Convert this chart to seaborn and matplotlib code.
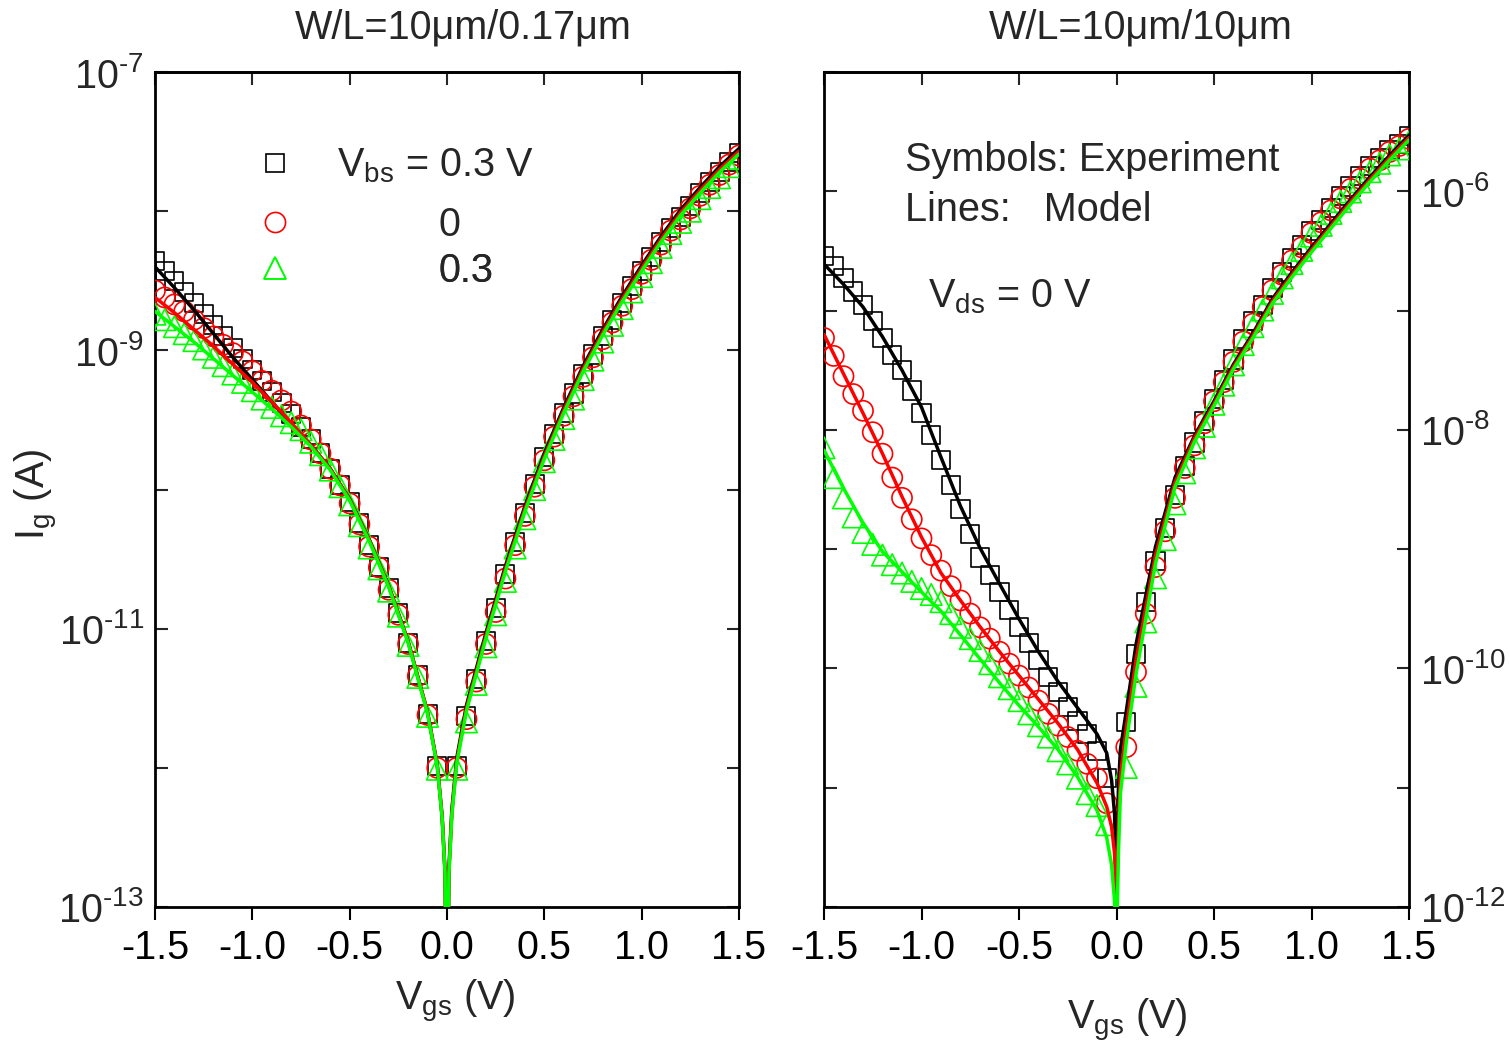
import numpy as np
import matplotlib
matplotlib.use("Agg")
import matplotlib.pyplot as plt
import seaborn as sns
from matplotlib.lines import Line2D
from matplotlib.ticker import FixedLocator, FixedFormatter, NullLocator

# ---------------------------------------------------------------------------
# Gate-voltage sweep of the measured points (V)
VGS_NEG = np.round(np.linspace(-1.5, -0.05, 30), 3)
VGS_POS = np.round(np.linspace(0.05, 1.5, 30), 3)
VGS_MEAS = np.concatenate([VGS_NEG, VGS_POS])

SERIES = ["Vbs = 0.3 V", "0", "0.3"]

# ---- W/L = 10um/0.17um : measured log10(Ig / A) ---------------------------
SHORT_NEG = {
    "Vbs = 0.3 V": [-8.36, -8.43, -8.50, -8.58, -8.66, -8.74, -8.82, -8.90, -8.98, -9.06,
                    -9.14, -9.22, -9.30, -9.38, -9.46, -9.55, -9.64, -9.74, -9.85, -9.97,
                    -10.09, -10.24, -10.40, -10.555, -10.71, -10.89, -11.10, -11.33, -11.61, -11.99],
    "0": [-8.57, -8.62, -8.67, -8.72, -8.78, -8.84, -8.90, -8.96, -9.02, -9.08,
          -9.15, -9.22, -9.29, -9.36, -9.44, -9.54, -9.64, -9.74, -9.85, -9.97,
          -10.10, -10.25, -10.41, -10.56, -10.72, -10.90, -11.11, -11.34, -11.62, -12.00],
    "0.3": [-8.74, -8.78, -8.83, -8.88, -8.93, -8.99, -9.05, -9.11, -9.17, -9.23,
            -9.29, -9.35, -9.41, -9.47, -9.52, -9.57, -9.66, -9.75, -9.86, -9.98,
            -10.11, -10.26, -10.42, -10.57, -10.73, -10.91, -11.12, -11.35, -11.63, -12.01],
}
SHORT_POS = {
    "Vbs = 0.3 V": [-11.99, -11.63, -11.36, -11.09, -10.85, -10.61, -10.375, -10.17, -9.96, -9.765,
                    -9.60, -9.45, -9.31, -9.17, -9.03, -8.90, -8.78, -8.66, -8.54, -8.43,
                    -8.33, -8.22, -8.12, -8.04, -7.96, -7.87, -7.79, -7.72, -7.645, -7.58],
    "0": [-12.00, -11.65, -11.38, -11.11, -10.88, -10.64, -10.40, -10.19, -9.98, -9.79,
          -9.62, -9.47, -9.33, -9.19, -9.05, -8.92, -8.80, -8.68, -8.56, -8.45,
          -8.35, -8.24, -8.14, -8.06, -7.98, -7.89, -7.81, -7.74, -7.665, -7.60],
    "0.3": [-12.01, -11.67, -11.40, -11.13, -10.90, -10.66, -10.42, -10.21, -10.00, -9.80,
            -9.64, -9.49, -9.35, -9.21, -9.07, -8.94, -8.82, -8.70, -8.58, -8.47,
            -8.37, -8.26, -8.16, -8.08, -8.00, -7.91, -7.83, -7.76, -7.68, -7.62],
}

# ---- W/L = 10um/0.17um : model log10(Ig / A) -------------------------------
SHORT_MODEL_VGS = [-1.5, -1.4, -1.3, -1.2, -1.1, -1.0, -0.9, -0.8, -0.7, -0.6, -0.5, -0.4,
                   -0.3, -0.2, -0.1, -0.05, -0.025, -0.01, 0.0, 0.01, 0.025, 0.05, 0.1,
                   0.2, 0.3, 0.4, 0.5, 0.6, 0.7, 0.8, 0.9, 1.0, 1.1, 1.2, 1.3, 1.4, 1.5]
SHORT_MODEL = {
    "Vbs = 0.3 V": [-8.40, -8.55, -8.71, -8.88, -9.05, -9.21, -9.37, -9.53, -9.68, -9.85,
                    -10.07, -10.36, -10.69, -11.09, -11.60, -11.98, -12.35, -12.75, -14.0,
                    -12.72, -12.30, -11.93, -11.55, -11.03, -10.55, -10.12, -9.74, -9.41,
                    -9.11, -8.85, -8.61, -8.39, -8.18, -7.99, -7.83, -7.68, -7.55],
    "0": [-8.62, -8.73, -8.85, -8.97, -9.10, -9.23, -9.37, -9.52, -9.68, -9.85,
          -10.07, -10.36, -10.69, -11.09, -11.60, -11.98, -12.35, -12.75, -14.0,
          -12.74, -12.32, -11.95, -11.57, -11.05, -10.57, -10.14, -9.76, -9.43,
          -9.13, -8.87, -8.63, -8.41, -8.20, -8.01, -7.85, -7.70, -7.57],
    "0.3": [-8.72, -8.83, -8.94, -9.06, -9.18, -9.30, -9.42, -9.55, -9.69, -9.86,
            -10.08, -10.37, -10.70, -11.10, -11.61, -11.99, -12.36, -12.76, -14.0,
            -12.76, -12.34, -11.97, -11.59, -11.07, -10.59, -10.16, -9.78, -9.45,
            -9.15, -8.89, -8.65, -8.43, -8.22, -8.03, -7.87, -7.72, -7.59],
}

# ---- W/L = 10um/10um : measured log10(Ig / A) ------------------------------
LONG_NEG = {
    "Vbs = 0.3 V": [-6.54, -6.63, -6.73, -6.84, -6.95, -7.09, -7.23, -7.37, -7.50, -7.67,
                    -7.86, -8.04, -8.25, -8.46, -8.66, -8.87, -9.07, -9.22, -9.36, -9.51,
                    -9.655, -9.79, -9.93, -10.07, -10.20, -10.32, -10.44, -10.55, -10.69, -10.92],
    "0": [-7.23, -7.38, -7.55, -7.70, -7.84, -8.02, -8.20, -8.40, -8.57, -8.75,
          -8.91, -9.05, -9.18, -9.31, -9.43, -9.54, -9.655, -9.75, -9.86, -9.96,
          -10.06, -10.16, -10.27, -10.38, -10.48, -10.575, -10.69, -10.80, -10.92, -11.13],
    "0.3": [-8.15, -8.40, -8.57, -8.73, -8.86, -8.96, -9.05, -9.13, -9.20, -9.27,
            -9.33, -9.38, -9.44, -9.54, -9.655, -9.75, -9.85, -9.96, -10.07, -10.17,
            -10.27, -10.38, -10.48, -10.575, -10.69, -10.80, -10.92, -11.05, -11.15, -11.31],
}
LONG_POS = {
    "Vbs = 0.3 V": [-10.45, -9.88, -9.445, -9.10, -8.82, -8.55, -8.30, -8.106, -7.925, -7.74,
                    -7.58, -7.41, -7.24, -7.09, -6.95, -6.81, -6.68, -6.56, -6.45, -6.33,
                    -6.24, -6.14, -6.04, -5.96, -5.875, -5.79, -5.72, -5.65, -5.60, -5.54],
    "0": [-10.66, -10.03, -9.54, -9.15, -8.85, -8.57, -8.32, -8.13, -7.945, -7.76,
          -7.60, -7.43, -7.26, -7.11, -6.97, -6.83, -6.70, -6.58, -6.47, -6.35,
          -6.26, -6.16, -6.06, -5.98, -5.895, -5.81, -5.74, -5.67, -5.62, -5.56],
    "0.3": [-10.83, -10.15, -9.61, -9.24, -8.92, -8.62, -8.36, -8.15, -7.97, -7.785,
            -7.625, -7.455, -7.285, -7.135, -6.995, -6.855, -6.725, -6.605, -6.495, -6.375,
            -6.285, -6.185, -6.085, -6.005, -5.92, -5.835, -5.765, -5.695, -5.645, -5.585],
}

# ---- W/L = 10um/10um : model log10(Ig / A) ---------------------------------
LONG_MODEL_VGS = [-1.5, -1.4, -1.3, -1.2, -1.1, -1.0, -0.9, -0.8, -0.7, -0.6, -0.5, -0.4,
                  -0.3, -0.2, -0.1, -0.05, -0.025, -0.01, -0.003, 0.0, 0.003, 0.01, 0.02,
                  0.05, 0.1, 0.2, 0.3, 0.4, 0.5, 0.6, 0.7, 0.8, 0.9, 1.0, 1.1, 1.2, 1.3,
                  1.4, 1.5]
LONG_MODEL = {
    "Vbs = 0.3 V": [-6.61, -6.78, -6.97, -7.22, -7.50, -7.81, -8.23, -8.64, -8.99, -9.29,
                    -9.585, -9.86, -10.11, -10.33, -10.55, -10.71, -10.94, -11.22, -11.60,
                    -13.5,
                    -11.55, -11.00, -10.68, -10.36, -9.80, -8.98, -8.40, -8.05, -7.76, -7.45,
                    -7.19, -6.90, -6.68, -6.47, -6.27, -6.07, -5.88, -5.70, -5.53],
    "0": [-7.20, -7.53, -7.86, -8.20, -8.56, -8.90, -9.20, -9.43, -9.65, -9.86,
          -10.06, -10.26, -10.46, -10.68, -10.96, -11.16, -11.33, -11.55, -11.85,
          -13.5,
          -11.80, -11.30, -10.90, -10.50, -9.93, -9.05, -8.44, -8.07, -7.78, -7.47,
          -7.21, -6.92, -6.70, -6.49, -6.29, -6.09, -5.90, -5.72, -5.55],
    "0.3": [-8.17, -8.49, -8.78, -9.02, -9.19, -9.36, -9.52, -9.72, -9.92, -10.12,
            -10.31, -10.49, -10.68, -10.91, -11.19, -11.42, -11.65, -11.95, -12.20,
            -13.5,
            -12.10, -11.55, -11.05, -10.62, -10.05, -9.12, -8.48, -8.10, -7.80, -7.49,
            -7.23, -6.94, -6.72, -6.51, -6.31, -6.11, -5.92, -5.74, -5.57],
}

XTICKS = [-1.5, -1.0, -0.5, 0.0, 0.5, 1.0, 1.5]
XTICK_LABELS = ["-1.5", "-1.0", "-0.5", "0.0", "0.5", "1.0", "1.5"]

COLORS = {"Vbs = 0.3 V": "#000000", "0": "#ff0000", "0.3": "#00ff00"}
MARKERS = {"Vbs = 0.3 V": ("s", 13.0), "0": ("o", 14.5), "0.3": ("^", 15.5)}
LEGEND_TEXT = {"Vbs = 0.3 V": "V$_{bs}$ = 0.3 V", "0": "0", "0.3": "0.3"}

# ---------------------------------------------------------------------------
sns.set_style("ticks")
FONT = ["Liberation Sans", "DejaVu Sans"]
plt.rcParams["font.family"] = FONT
plt.rcParams["mathtext.fontset"] = "custom"
plt.rcParams["mathtext.rm"] = "Liberation Sans"
plt.rcParams["mathtext.it"] = "Liberation Sans"
plt.rcParams["mathtext.default"] = "regular"
plt.rcParams["axes.unicode_minus"] = False
FS = 28.5

W, H = 1510, 1048
fig = plt.figure(figsize=(W / 100, H / 100), dpi=100)
fig.patch.set_facecolor("white")
axL = fig.add_axes([155 / W, 1 - 907 / H, 584 / W, 835 / H])
axR = fig.add_axes([824 / W, 1 - 907 / H, 585 / W, 835 / H])


def draw_panel(ax, neg, pos, mvgs, model):
    ax.set_yscale("log")
    for key in SERIES:
        m, ms = MARKERS[key]
        y = 10.0 ** np.array(neg[key] + pos[key])
        sns.scatterplot(x=VGS_MEAS, y=y, marker=m, s=ms ** 2, facecolor="none",
                        edgecolor=COLORS[key], linewidth=1.2, ax=ax, zorder=3,
                        legend=False)
    for key in SERIES:
        sns.lineplot(x=mvgs, y=10.0 ** np.array(model[key]), color=COLORS[key],
                     linewidth=2.5, ax=ax, zorder=4, estimator=None, sort=False,
                     legend=False)


def style_axes(ax, exps, labeled, side):
    ax.set_xlim(-1.5, 1.5)
    ax.set_ylim(10.0 ** exps[0], 10.0 ** exps[-1])
    ax.set_xlabel("")
    ax.set_ylabel("")
    ax.xaxis.set_major_locator(FixedLocator(XTICKS))
    ax.xaxis.set_major_formatter(FixedFormatter(XTICK_LABELS))
    ax.xaxis.set_minor_locator(NullLocator())
    ax.tick_params(axis="x", which="major", direction="out", length=9, width=1.5,
                   pad=7, labelsize=FS, bottom=True, top=False, colors="black")
    top = ax.secondary_xaxis("top")
    top.set_xticks(XTICKS)
    top.tick_params(axis="x", direction="in", length=9, width=1.5, labeltop=False)
    top.spines["top"].set_linewidth(2.0)
    ax.yaxis.set_major_locator(FixedLocator([10.0 ** e for e in exps]))
    ax.yaxis.set_major_formatter(FixedFormatter(
        [r"$10^{\text{-}%d}$" % (-e) if e in labeled else "" for e in exps]))
    ax.yaxis.set_minor_locator(NullLocator())
    ax.tick_params(axis="y", which="major", direction="in", length=9, width=1.5,
                   left=True, right=True, labelleft=(side == "left"),
                   labelright=(side == "right"), labelsize=FS, pad=8)
    for s in ax.spines.values():
        s.set_visible(True)
        s.set_linewidth(2.0)
        s.set_color("black")
    ax.set_facecolor("white")


draw_panel(axL, SHORT_NEG, SHORT_POS, SHORT_MODEL_VGS, SHORT_MODEL)
draw_panel(axR, LONG_NEG, LONG_POS, LONG_MODEL_VGS, LONG_MODEL)
style_axes(axL, list(range(-13, -6)), [-13, -11, -9, -7], "left")
style_axes(axR, list(range(-12, -4)), [-12, -10, -8, -6], "right")

# titles
axL.text(0.527, 1.053, "W/L=10\u03bcm/0.17\u03bcm", transform=axL.transAxes,
         ha="center", va="center", fontsize=FS)
axR.text(0.542, 1.053, "W/L=10\u03bcm/10\u03bcm", transform=axR.transAxes,
         ha="center", va="center", fontsize=FS)

# axis labels
axL.set_xlabel("V$_{gs}$ (V)", fontsize=FS)
axL.xaxis.set_label_coords(0.514, -0.085)
axR.set_xlabel("V$_{gs}$ (V)", fontsize=FS)
axR.xaxis.set_label_coords(0.518, -0.108)
fig.text(36 / W, 1 - 494 / H, "I$_g$ (A)", rotation=90, ha="center", va="center",
         fontsize=FS)

# legend of the bias series: one entry per row, rows placed individually
legend_rows = {"Vbs = 0.3 V": (0.8874, 1.066), "0": (0.8168, 3.62), "0.3": (0.7617, 3.62)}
for key in SERIES:
    yrow, pad = legend_rows[key]
    h = Line2D([], [], linestyle="", marker=MARKERS[key][0], markersize=MARKERS[key][1],
               markerfacecolor="none", markeredgecolor=COLORS[key], markeredgewidth=1.2)
    leg = axL.legend([h], [LEGEND_TEXT[key]], loc="center left",
                     bbox_to_anchor=(0.1716, yrow), frameon=False, fontsize=FS,
                     handlelength=1.0, handletextpad=pad, borderpad=0,
                     borderaxespad=0)
    axL.add_artist(leg)

# annotations of the long-channel panel
axR.text(0.1385, 0.8946, "Symbols: Experiment", transform=axR.transAxes,
         ha="left", va="center", fontsize=FS)
axR.text(0.1385, 0.8347, "Lines:   Model", transform=axR.transAxes,
         ha="left", va="center", fontsize=FS)
axR.text(0.178, 0.7186, "V$_{ds}$ = 0 V", transform=axR.transAxes,
         ha="left", va="baseline", fontsize=FS)

fig.savefig("out.png", dpi=100, facecolor="white")
